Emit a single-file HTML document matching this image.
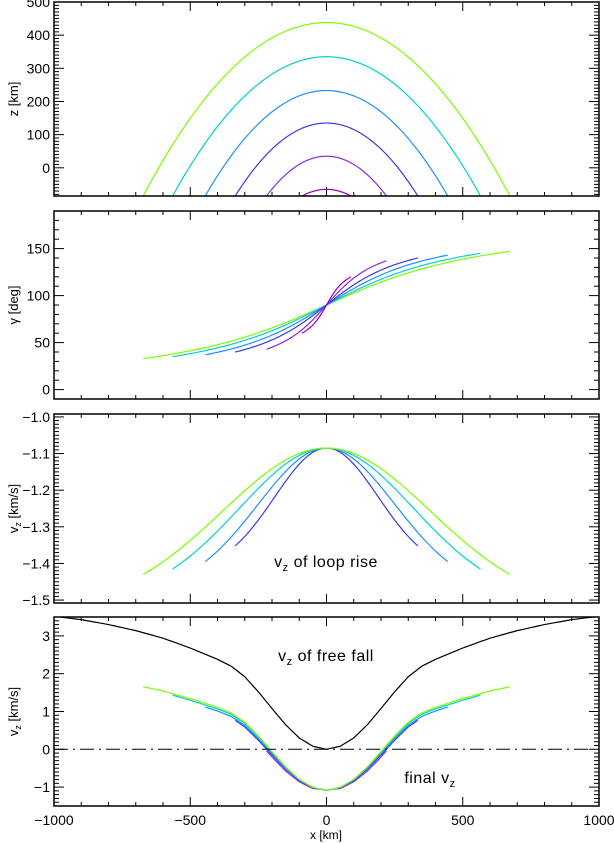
<!DOCTYPE html>
<html><head><meta charset="utf-8"><style>
body{margin:0;background:#fff}
svg{display:block;font-family:"Liberation Sans","DejaVu Sans",sans-serif}
</style></head><body>
<svg id="c" width="614" height="843" viewBox="0 0 614 843"></svg>
<script>
// ---- data ----
const loopColors = ["#7cfc00","#00d0d0","#1e90ff","#3a3ae8","#8a2be2","#9400c8"];
const loopHalfWidth = [673,565,445,335,220,90];   // km, footpoints at z=-85
const loopPeak = [438,335,233,135,35,-65];          // km
const gammaEnd = [57,55,53,50,47,30];               // deg from 90 at ends
const vzRiseEnd = [-1.43,-1.415,-1.395,-1.352,-1.30,-1.15];
const vzRiseTop = -1.085;
const ffX = [0,50,100,150,200,250,300,350,400,500,600,700,800,900,1000];
const ffV = [0,0.08,0.3,0.65,1.08,1.52,1.92,2.2,2.38,2.68,2.94,3.14,3.3,3.43,3.52];
const xTicks = [-1000,-500,0,500,1000];

const svg=document.getElementById('c');
const NS="http://www.w3.org/2000/svg";
function el(t,a,p){const e=document.createElementNS(NS,t);for(const k in a)e.setAttribute(k,a[k]);(p||svg).appendChild(e);return e;}
const X0=54,X1=599;
const sx=x=>X0+(x+1000)/2000*(X1-X0);
const panels=[
 {top:2,bot:196,min:-85,max:500,maj:100,min_:10,labels:[0,100,200,300,400,500],title:"z [km]",fmt:v=>v,name:"height-panel"},
 {top:211,bot:399,min:-10,max:190,maj:50,min_:10,labels:[0,50,100,150],title:"γ [deg]",fmt:v=>v,name:"angle-panel"},
 {top:414,bot:603,min:-1.508,max:-0.992,maj:0.1,min_:0.01,labels:[-1.5,-1.4,-1.3,-1.2,-1.1,-1.0],title:"vz",fmt:v=>"−"+Math.abs(v).toFixed(1),name:"rise-velocity-panel"},
 {top:617,bot:806,min:-1.5,max:3.5,maj:1,min_:0.1,labels:[-1,0,1,2,3],title:"vz",fmt:v=>v<0?"−"+(-v):v,name:"final-velocity-panel"}
];
panels.forEach(p=>{p.sy=v=>p.bot-(v-p.min)/(p.max-p.min)*(p.bot-p.top);});
function interp(xs,ys,x){x=Math.abs(x);for(let i=1;i<xs.length;i++){if(x<=xs[i]){const t=(x-xs[i-1])/(xs[i]-xs[i-1]);return ys[i-1]+t*(ys[i]-ys[i-1]);}}return ys[ys.length-1];}
function poly(pts,stroke,name,g,extra){const e=el('polyline',Object.assign({points:pts.map(q=>q[0].toFixed(2)+","+q[1].toFixed(2)).join(" "),fill:"none",stroke:stroke,"stroke-width":1.2},extra||{}),g);return e;}

panels.forEach((p,pi)=>{
 const g=el('g',{});
 
 
 const clip=el('clipPath',{id:'cl'+pi},g);el('rect',{x:X0,y:p.top,width:X1-X0,height:p.bot-p.top},clip);
 const plot=el('g',{'clip-path':'url(#cl'+pi+')'},g);
 
 
 for(let x=-1000;x<=1000;x+=100){const maj=x%500===0;const L=maj?9:4;
  el('line',{x1:sx(x),x2:sx(x),y1:p.bot,y2:p.bot-L,stroke:"#000","stroke-width":1},g);
  el('line',{x1:sx(x),x2:sx(x),y1:p.top,y2:p.top+L,stroke:"#000","stroke-width":1},g);}
 const n0=Math.ceil(p.min/p.min_-1e-6),n1=Math.floor(p.max/p.min_+1e-6);
 const r=Math.round(p.maj/p.min_);
 for(let n=n0;n<=n1;n++){const v=n*p.min_;const maj=(((n%r)+r)%r)===0;const L=maj?10:5;const y=p.sy(v);
  el('line',{x1:X0,x2:X0+L,y1:y,y2:y,stroke:"#000","stroke-width":1},g);
  el('line',{x1:X1,x2:X1-L,y1:y,y2:y,stroke:"#000","stroke-width":1},g);}
 p.labels.forEach(v=>{const t=el('text',{x:X0-4,y:p.sy(v)+5,"text-anchor":"end","font-size":14},g);t.textContent=p.fmt(v);
  });
 el('rect',{x:X0,y:p.top,width:X1-X0,height:p.bot-p.top,fill:"none",stroke:"#000","stroke-width":1.5},g);
 const cy=(p.top+p.bot)/2;
 const tt=el('text',{x:0,y:0,transform:`translate(18,${cy}) rotate(-90)`,"text-anchor":"middle","font-size":13},g);
 
 if(p.title==="vz"){tt.innerHTML='v<tspan font-size="9" dy="3">z</tspan><tspan dy="-3"> [km/s]</tspan>';}else tt.textContent=p.title;
 p.plot=plot;
});

// panel 1: loops (parabolic)
loopHalfWidth.forEach((w,i)=>{const p=panels[0];const d=loopPeak[i]+85;const pts=[];
 for(let k=0;k<=120;k++){const x=-w+2*w*k/120;pts.push([sx(x),p.sy(loopPeak[i]-d*(x/w)*(x/w))]);}
 poly(pts,loopColors[i],'loop-'+i,p.plot);});
loopHalfWidth.forEach((w,i)=>{const p=panels[1];const pts=[];
 for(let k=0;k<=100;k++){const u=-1+2*k/100;pts.push([sx(u*w),p.sy(90+gammaEnd[i]*Math.atan(1.5*u)/Math.atan(1.5))]);}
 poly(pts,loopColors[i],'gamma-'+i,p.plot);});
function rise(i,x){const w=loopHalfWidth[i],u=x/w,s=0.8;return vzRiseTop+(vzRiseEnd[i]-vzRiseTop)*(1-Math.exp(-((u/s)**2)))/(1-Math.exp(-1/s/s));}
for(let i=loopHalfWidth.length-1;i>=0;i--){const w=loopHalfWidth[i];const a=[],b=[];
 for(let k=0;k<=100;k++){const x=-w+2*w*k/100;a.push([sx(x),panels[2].sy(rise(i,x))]);b.push([sx(x),panels[3].sy(interp(ffX,ffV,x)+rise(i,x))]);}
 if(i<4)poly(a,loopColors[i],'rise-'+i,panels[2].plot);
 poly(b,loopColors[i],'final-vz-'+i,panels[3].plot);}
{const p=panels[3];const pts=[];for(let k=0;k<=200;k++){const x=-1000+10*k;pts.push([sx(x),p.sy(interp(ffX,ffV,x))]);}
 poly(pts,"#000",'free-fall-curve',p.plot);
 const l=el('line',{x1:X0,x2:X1,y1:p.sy(0),y2:p.sy(0),stroke:"#000","stroke-width":1,"stroke-dasharray":"14 5 2 5"},p.plot);
 }
function ann(x,y,main,name){const t=el('text',{x:x,y:y,"font-size":16,"text-anchor":"middle","letter-spacing":"0.5"});t.innerHTML='v<tspan font-size="11" dy="4">z</tspan><tspan dy="-4">'+main+'</tspan>';
 }
ann(326,567,' of loop rise','loop-rise-label');
ann(326,661,' of free fall','free-fall-label');
{const t=el('text',{x:430,y:783,"font-size":16,"text-anchor":"middle","letter-spacing":"0.5"});t.innerHTML='final v<tspan font-size="11" dy="4">z</tspan>';
 }
xTicks.forEach(v=>{const t=el('text',{x:sx(v),y:825,"text-anchor":"middle","font-size":14});t.textContent=v<0?"−"+(-v):v;
 });
{const t=el('text',{x:326,y:839,"text-anchor":"middle","font-size":12});t.textContent="x [km]";
 }
</script>
</body></html>
